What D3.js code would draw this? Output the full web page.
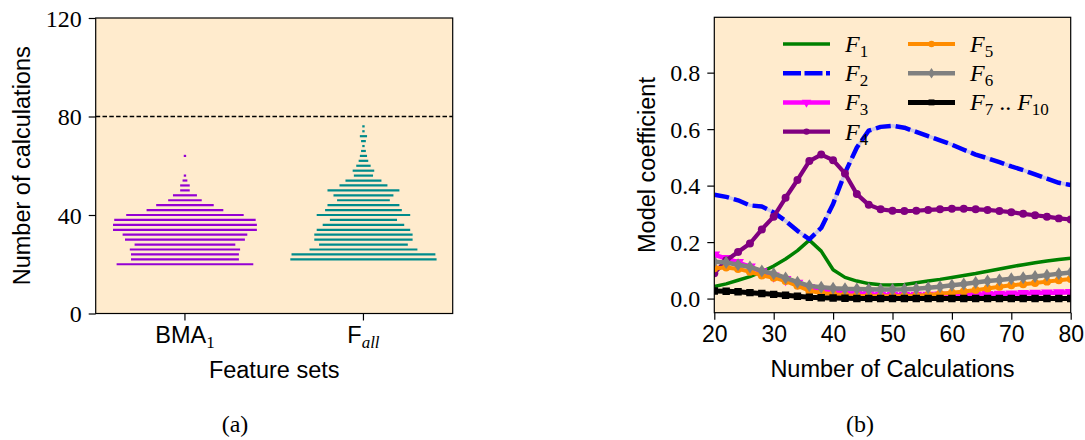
<!DOCTYPE html>
<html>
<head>
<meta charset="utf-8">
<script src="https://cdn.jsdelivr.net/npm/d3@7"></script>
<style>
body { margin: 0; background: #fff; }
.sans { font-family: "Liberation Sans", Arial, sans-serif; }
.serif { font-family: "Liberation Serif", "Times New Roman", serif; }
</style>
</head>
<body>
<svg id="fig" width="1085" height="440"></svg>
<script>
// ---- data: panel (a), number of calculations per feature set ----
const featureSets = ['BMA', 'Fall'];
const bmaCalcs  = [20, 22, 24, 26, 28, 30, 32, 34, 36, 38, 40, 42, 44, 46, 48, 50, 52, 54, 56, 64];
const bmaCounts = [57, 45, 45, 46, 42, 50, 52, 60, 60, 59, 49, 32, 24, 14, 10, 4, 4, 2, 1, 1];
const fallCalcs  = [22, 24, 26, 28, 30, 32, 34, 36, 38, 40, 42, 44, 46, 48, 50, 52, 54, 56, 58, 60, 62, 64, 66, 68, 70, 72, 74, 76];
const fallCounts = [61, 60, 45, 37, 41, 41, 39, 34, 28, 39, 32, 30, 22, 25, 30, 20, 15, 8, 9, 6, 4, 3, 2, 1, 2, 3, 1, 1];
const calcLimit = 80;
const leftYTicks = [0, 40, 80, 120];

// ---- data: panel (b), model coefficients ----
const nCalc = [20, 22, 24, 26, 28, 30, 32, 34, 36, 38, 40, 42, 44, 46, 48, 50, 52, 54, 56, 58, 60, 62, 64, 66, 68, 70, 72, 74, 76, 78, 80];
const coefF1 = [0.043, 0.052, 0.065, 0.078, 0.095, 0.115, 0.14, 0.17, 0.207, 0.168, 0.102, 0.075, 0.062, 0.053, 0.049, 0.048, 0.05, 0.056, 0.062, 0.068, 0.075, 0.082, 0.089, 0.097, 0.105, 0.113, 0.12, 0.127, 0.133, 0.138, 0.143];
const coefF2 = [0.368, 0.36, 0.348, 0.33, 0.326, 0.305, 0.275, 0.24, 0.21, 0.25, 0.335, 0.445, 0.535, 0.595, 0.608, 0.612, 0.605, 0.59, 0.575, 0.56, 0.545, 0.527, 0.51, 0.497, 0.483, 0.468, 0.455, 0.44, 0.425, 0.41, 0.402];
const coefF3 = [0.155, 0.142, 0.128, 0.112, 0.095, 0.08, 0.068, 0.055, 0.04, 0.03, 0.025, 0.02, 0.017, 0.015, 0.013, 0.012, 0.012, 0.012, 0.012, 0.013, 0.013, 0.014, 0.014, 0.015, 0.016, 0.017, 0.018, 0.019, 0.02, 0.021, 0.022];
const coefF4 = [0.09, 0.135, 0.165, 0.195, 0.245, 0.29, 0.357, 0.42, 0.487, 0.51, 0.49, 0.443, 0.37, 0.332, 0.316, 0.311, 0.31, 0.311, 0.314, 0.316, 0.318, 0.318, 0.316, 0.314, 0.31, 0.306, 0.3, 0.295, 0.29, 0.284, 0.28];
const coefF5 = [0.107, 0.11, 0.105, 0.095, 0.082, 0.074, 0.062, 0.045, 0.028, 0.02, 0.015, 0.012, 0.01, 0.009, 0.008, 0.008, 0.009, 0.01, 0.013, 0.017, 0.021, 0.025, 0.03, 0.036, 0.042, 0.047, 0.051, 0.055, 0.06, 0.065, 0.069];
const coefF6 = [0.13, 0.128, 0.12, 0.112, 0.098, 0.088, 0.073, 0.058, 0.045, 0.04, 0.037, 0.035, 0.034, 0.033, 0.032, 0.032, 0.033, 0.035, 0.038, 0.042, 0.047, 0.052, 0.057, 0.062, 0.066, 0.07, 0.074, 0.078, 0.083, 0.088, 0.092];
const coefF7 = [0.027, 0.026, 0.024, 0.021, 0.018, 0.015, 0.012, 0.008, 0.005, 0.003, 0.002, 0.001, 0, 0, 0, 0, 0, 0, 0, 0, 0, 0, 0, 0, 0, 0, 0, 0, 0, 0, 0];
const rightXTicks = [20, 30, 40, 50, 60, 70, 80];
const rightYTicks = [0, 0.2, 0.4, 0.6, 0.8];

const svg = d3.select('#fig');
const bg = '#FFEBCD';
const SANS = 'sans', SERIF = 'serif';

// ================= panel (a) =================
const A = {left: 95.7, right: 452.7, top: 18, bottom: 313.5};
const yA = d3.scaleLinear().domain([0, 120]).range([A.bottom, A.top]);
const xA = d3.scaleLinear().domain([-0.5, 1.5]).range([A.left, A.right]);
const halfW = d3.scaleLinear().domain([0, 60]).range([0, (xA(1) - xA(0)) * 0.403]);

const gA = svg.append('g');
gA.append('rect').attr('x', A.left).attr('y', A.top)
  .attr('width', A.right - A.left).attr('height', A.bottom - A.top).attr('fill', bg);

const groups = [
  {calcs: bmaCalcs, counts: bmaCounts, color: '#9400D3'},
  {calcs: fallCalcs, counts: fallCounts, color: '#008B8B'}
];
groups.forEach((grp, gi) => {
  const rows = grp.calcs.map((c, i) => ({c: c, n: grp.counts[i]}));
  gA.append('g').selectAll('line').data(rows).enter().append('line')
    .attr('x1', d => xA(gi) - halfW(d.n))
    .attr('x2', d => xA(gi) + halfW(d.n))
    .attr('y1', d => yA(d.c)).attr('y2', d => yA(d.c))
    .attr('stroke', grp.color).attr('stroke-width', 2.2);
});

gA.append('line').attr('x1', A.left).attr('x2', A.right)
  .attr('y1', yA(calcLimit)).attr('y2', yA(calcLimit))
  .attr('stroke', '#000').attr('stroke-width', 1.5).attr('stroke-dasharray', '4.5,2.3');

const axAy = gA.append('g').attr('transform', `translate(${A.left},0)`)
  .call(d3.axisLeft(yA).tickValues(leftYTicks).tickSize(7).tickPadding(7).tickSizeOuter(0));
axAy.select('.domain').remove();
axAy.selectAll('text').attr('class', SERIF).attr('font-size', 24).attr('dy', '0.34em');
axAy.selectAll('line').attr('stroke-width', 1.2);

gA.append('g').selectAll('line').data(featureSets).enter().append('line')
  .attr('x1', (d, i) => xA(i)).attr('x2', (d, i) => xA(i))
  .attr('y1', A.bottom).attr('y2', A.bottom + 7).attr('stroke', '#000').attr('stroke-width', 1.2);

// category labels with subscripts
const catA = gA.append('text').attr('x', xA(0)).attr('y', 343.3).attr('text-anchor', 'middle');
catA.append('tspan').attr('class', SANS).attr('font-size', 23.5).text('BMA');
catA.append('tspan').attr('class', SERIF).attr('font-size', 17).attr('dy', 5).text('1');
const catB = gA.append('text').attr('x', xA(1)).attr('y', 343.3).attr('text-anchor', 'middle');
catB.append('tspan').attr('class', SANS).attr('font-size', 23.5).text('F');
catB.append('tspan').attr('class', SERIF).attr('font-size', 17).attr('font-style', 'italic').attr('dy', 5).text('all');

gA.append('text').attr('class', SANS).attr('font-size', 23.5).attr('text-anchor', 'middle')
  .attr('x', (A.left + A.right) / 2).attr('y', 378).text('Feature sets');
gA.append('text').attr('class', SANS).attr('font-size', 23.5).attr('text-anchor', 'middle')
  .attr('transform', `translate(30,${(A.top + A.bottom) / 2}) rotate(-90)`).text('Number of calculations');
gA.append('rect').attr('x', A.left).attr('y', A.top)
  .attr('width', A.right - A.left).attr('height', A.bottom - A.top)
  .attr('fill', 'none').attr('stroke', '#000').attr('stroke-width', 1.2);
gA.append('text').attr('class', SERIF).attr('font-size', 24).attr('text-anchor', 'middle')
  .attr('x', 235).attr('y', 432).text('(a)');

// ================= panel (b) =================
const B = {left: 714.3, right: 1070.7, top: 17.3, bottom: 312.7};
const xB = d3.scaleLinear().domain([20, 80]).range([B.left, B.right]);
const yB = d3.scaleLinear().domain([-0.05, 0.996]).range([B.bottom, B.top]);

const gB = svg.append('g');
gB.append('rect').attr('x', B.left).attr('y', B.top)
  .attr('width', B.right - B.left).attr('height', B.bottom - B.top).attr('fill', bg);
svg.append('clipPath').attr('id', 'clipB').append('rect')
  .attr('x', B.left).attr('y', B.top).attr('width', B.right - B.left).attr('height', B.bottom - B.top);

const markers = {
  circle: d3.symbol().type(d3.symbolCircle).size(50)(),
  tri: d3.symbol().type(d3.symbolTriangle).size(60)(),
  diamond: 'M0,-6.5L4.3,0L0,6.5L-4.3,0Z',
  square: d3.symbol().type(d3.symbolSquare).size(55)()
};

const series = [
  {label: ['1'], values: coefF1, color: '#008000', width: 3.5},
  {label: ['2'], values: coefF2, color: '#0000FF', width: 4.5, dash: '15,5', halo: '#cbc6e6'},
  {label: ['3'], values: coefF3, color: '#FF00FF', width: 4.5, marker: 'tri', rot: 180},
  {label: ['4'], values: coefF4, color: '#800080', width: 4.2, marker: 'circle'},
  {label: ['5'], values: coefF5, color: '#FF8C00', width: 4, marker: 'circle'},
  {label: ['6'], values: coefF6, color: '#808080', width: 4.5, marker: 'diamond'},
  {label: ['7', '10'], values: coefF7, color: '#000000', width: 5, marker: 'square'}
];

const line = d3.line().x((d, i) => xB(nCalc[i])).y(d => yB(d));
const plotB = gB.append('g').attr('clip-path', 'url(#clipB)');
series.forEach(s => {
  if (s.halo) {
    plotB.append('path').attr('d', line(s.values)).attr('fill', 'none')
      .attr('stroke', s.halo).attr('stroke-width', 3.5);
  }
  plotB.append('path').attr('d', line(s.values)).attr('fill', 'none')
    .attr('stroke', s.color).attr('stroke-width', s.width)
    .attr('stroke-dasharray', s.dash || null).attr('stroke-linejoin', 'round');
  if (s.marker) {
    plotB.append('g').selectAll('path').data(s.values).enter().append('path')
      .attr('d', markers[s.marker]).attr('fill', s.color)
      .attr('transform', (d, i) => `translate(${xB(nCalc[i])},${yB(d)}) rotate(${s.rot || 0})`);
  }
});

// axes
const axBx = gB.append('g').attr('transform', `translate(0,${B.bottom})`)
  .call(d3.axisBottom(xB).tickValues(rightXTicks).tickSize(7).tickPadding(6).tickSizeOuter(0));
axBx.select('.domain').remove();
axBx.selectAll('text').attr('class', SANS).attr('font-size', 23).attr('dy', '0.72em');
axBx.selectAll('line').attr('stroke-width', 1.2);
const axBy = gB.append('g').attr('transform', `translate(${B.left},0)`)
  .call(d3.axisLeft(yB).tickValues(rightYTicks).tickSize(7).tickPadding(7).tickSizeOuter(0)
    .tickFormat(d3.format('.1f')));
axBy.select('.domain').remove();
axBy.selectAll('text').attr('class', SERIF).attr('font-size', 24).attr('dy', '0.34em');
axBy.selectAll('line').attr('stroke-width', 1.2);

gB.append('rect').attr('x', B.left).attr('y', B.top)
  .attr('width', B.right - B.left).attr('height', B.bottom - B.top)
  .attr('fill', 'none').attr('stroke', '#000').attr('stroke-width', 1.2);

gB.append('text').attr('class', SANS).attr('font-size', 23.5).attr('text-anchor', 'middle')
  .attr('x', (B.left + B.right) / 2).attr('y', 377).text('Number of Calculations');
gB.append('text').attr('class', SANS).attr('font-size', 23.5).attr('text-anchor', 'middle')
  .attr('transform', `translate(655,${(B.top + B.bottom) / 2}) rotate(-90)`).text('Model coefficient');
gB.append('text').attr('class', SERIF).attr('font-size', 24).attr('text-anchor', 'middle')
  .attr('x', 860).attr('y', 432).text('(b)');

// legend (two columns, no frame)
const legCols = [{x1: 783, x2: 830, tx: 845}, {x1: 908, x2: 955, tx: 970}];
const legRowY = 44, legStep = 29.2;
series.forEach((s, i) => {
  const col = legCols[i < 4 ? 0 : 1];
  const y = legRowY + (i < 4 ? i : i - 4) * legStep;
  const g = gB.append('g');
  g.append('line').attr('x1', col.x1).attr('x2', col.x2).attr('y1', y).attr('y2', y)
    .attr('stroke', s.color).attr('stroke-width', s.width)
    .attr('stroke-dasharray', s.dash ? '18,3.5' : null);
  if (s.marker) {
    g.append('path').attr('d', markers[s.marker]).attr('fill', s.color)
      .attr('transform', `translate(${(col.x1 + col.x2) / 2},${y}) rotate(${s.rot || 0}) scale(0.8)`);
  }
  const t = g.append('text').attr('class', SERIF).attr('x', col.tx).attr('y', y + 8);
  s.label.forEach((sub, k) => {
    if (k > 0) t.append('tspan').attr('font-size', 24).attr('dy', -5).text(' .. ');
    t.append('tspan').attr('font-size', 24).attr('font-style', 'italic').attr('dy', k > 0 ? 0 : null).text('F');
    t.append('tspan').attr('font-size', 17).attr('dy', 5).text(sub);
  });
});
</script>
</body>
</html>
